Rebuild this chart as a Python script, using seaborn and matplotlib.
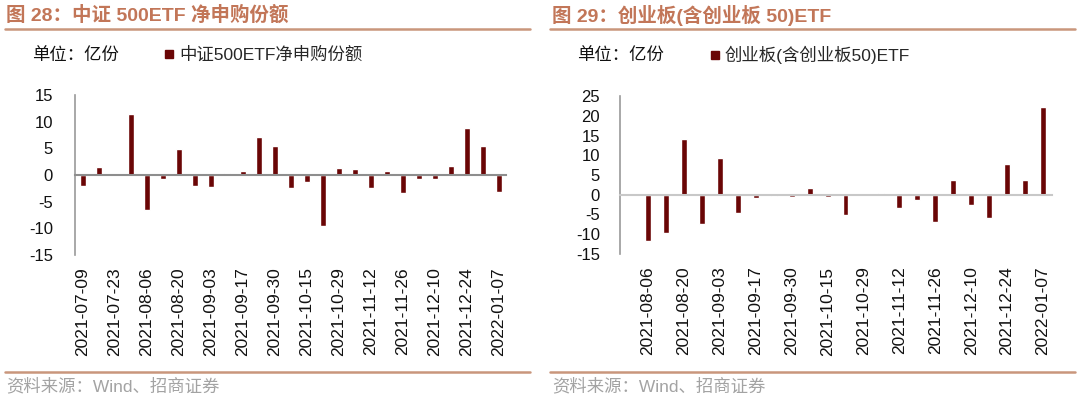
import numpy as np
import pandas as pd
import matplotlib
matplotlib.use("Agg")
import matplotlib.pyplot as plt
from matplotlib.lines import Line2D
import seaborn as sns

# 中证500ETF 净申购份额（亿份），周度
dates_500 = ["2021-07-09", "2021-07-16", "2021-07-23", "2021-07-30", "2021-08-06",
             "2021-08-13", "2021-08-20", "2021-08-27", "2021-09-03", "2021-09-10",
             "2021-09-17", "2021-09-24", "2021-09-30", "2021-10-08", "2021-10-15",
             "2021-10-22", "2021-10-29", "2021-11-05", "2021-11-12", "2021-11-19",
             "2021-11-26", "2021-12-03", "2021-12-10", "2021-12-17", "2021-12-24",
             "2021-12-31", "2022-01-07"]
vals_500 = [-2.1, 1.45, 0.0, 11.4, -6.6, -0.75, 4.85, -2.1, -2.2, 0.45,
            0.8, 7.05, 5.5, -2.4, -1.4, -9.5, 1.4, 1.2, -2.4, 0.8,
            -3.3, -0.75, -0.75, 1.75, 8.75, 5.5, -3.1]

# 创业板(含创业板50)ETF（亿份），周度
dates_cyb = ["2021-08-06", "2021-08-13", "2021-08-20", "2021-08-27", "2021-09-03",
             "2021-09-10", "2021-09-17", "2021-09-24", "2021-09-30", "2021-10-08",
             "2021-10-15", "2021-10-22", "2021-10-29", "2021-11-05", "2021-11-12",
             "2021-11-19", "2021-11-26", "2021-12-03", "2021-12-10", "2021-12-17",
             "2021-12-24", "2021-12-31", "2022-01-07"]
vals_cyb = [-11.8, -9.75, 14.1, -7.5, 9.25, -4.5, -0.9, -0.2, -0.6, 1.6,
            -0.5, -5.0, 0.0, 0.4, -3.3, -1.4, -7.0, 3.7, -2.7, -5.9,
            7.8, 3.85, 22.2]

BAR = "#6a0606"
TITLE_C = "#c27658"
RULE_C = "#c9967c"
W, H = 1080, 396

sns.set_style("white")
plt.rcParams["font.family"] = ["Liberation Sans", "Noto Sans CJK SC"]
plt.rcParams["axes.unicode_minus"] = False

fig = plt.figure(figsize=(W / 100, H / 100), dpi=100)


def fx(px):
    return px / W


def fy(py):
    return 1 - py / H


def draw(ax, dates, vals, label, yticks, xlim, zero_c, boundary_ticks, tick_len, leg_x):
    df = pd.DataFrame({"date": dates, "val": vals})
    sns.barplot(data=df, x="date", y="val", color=BAR, saturation=1,
                width=0.33, ax=ax)
    ax.set_xlabel("")
    ax.set_ylabel("")
    ax.set_ylim(yticks[0], yticks[-1])
    ax.set_yticks(yticks)
    ax.set_xlim(*xlim)
    for s in ["top", "right"]:
        ax.spines[s].set_visible(False)
    ax.spines["left"].set_color("#9a9a9a")
    ax.spines["left"].set_linewidth(1.2)
    ax.spines["bottom"].set_position(("data", 0))
    ax.spines["bottom"].set_color(zero_c)
    ax.spines["bottom"].set_linewidth(1.5)
    ax.tick_params(axis="y", direction="out", length=tick_len, width=1.2,
                   color="#9a9a9a", pad=11.5, labelsize=12, labelcolor="#111111")
    n = len(dates)
    ax.set_xticks(range(n))
    ax.tick_params(axis="x", which="major", length=0, labelbottom=False)
    if boundary_ticks:
        ax.set_xticks(np.arange(-0.5, n, 1), minor=True)
        ax.tick_params(axis="x", which="minor", direction="out", length=3,
                       width=1.2, color=zero_c)
    sec = ax.secondary_xaxis(0)
    sec.set_xticks(range(0, n, 2), labels=dates[::2], rotation=90)
    sec.tick_params(length=0, pad=9, labelsize=12.5, labelcolor="#111111")
    sec.spines["bottom"].set_visible(False)
    handle = Line2D([], [], marker="s", linestyle="none", markersize=5.2,
                    markerfacecolor=BAR, markeredgecolor=BAR, label=label)
    ax.legend(handles=[handle], loc="center left", bbox_to_anchor=(fx(leg_x), fy(55)),
              bbox_transform=fig.transFigure, frameon=False, fontsize=12.5,
              handlelength=0.5, handletextpad=0.3, borderpad=0, borderaxespad=0)


ax1 = fig.add_axes([fx(75), fy(255), fx(431), (255 - 95) / H])
ax2 = fig.add_axes([fx(620), fy(254), fx(432), (254 - 96) / H])

draw(ax1, dates_500, vals_500, "中证500ETF净申购份额", list(range(-15, 16, 5)),
     (-0.5, 26.44), "#8e8e8e", False, 4.3, 165)
draw(ax2, dates_cyb, vals_cyb, "创业板(含创业板50)ETF", list(range(-15, 26, 5)),
     (-1.56, 22.44), "#c8c8c8", True, 3, 711)

# 标题、单位、来源
fig.text(fx(6), fy(15), "图 28：中证 500ETF 净申购份额", color=TITLE_C,
         fontsize=14, fontweight="bold", va="center", ha="left")
fig.text(fx(552), fy(15), "图 29：创业板(含创业板 50)ETF", color=TITLE_C,
         fontsize=14, fontweight="bold", va="center", ha="left")
for x0, x1 in [(5, 530), (550, 1075)]:
    fig.add_artist(Line2D([fx(x0), fx(x1)], [fy(29), fy(29)], color=RULE_C, lw=1.8,
                          transform=fig.transFigure))
    fig.add_artist(Line2D([fx(x0), fx(x1)], [fy(372), fy(372)], color=RULE_C, lw=1.8,
                          transform=fig.transFigure))
fig.text(fx(32), fy(55), "单位：亿份", fontsize=12.5, va="center", ha="left", color="#111111")
fig.text(fx(577), fy(55), "单位：亿份", fontsize=12.5, va="center", ha="left", color="#111111")
fig.text(fx(6), fy(386), "资料来源：Wind、招商证券", fontsize=12.5, va="center",
         ha="left", color="#a3a3a3")
fig.text(fx(552), fy(386), "资料来源：Wind、招商证券", fontsize=12.5, va="center",
         ha="left", color="#a3a3a3")

fig.savefig("out.png", dpi=100)
